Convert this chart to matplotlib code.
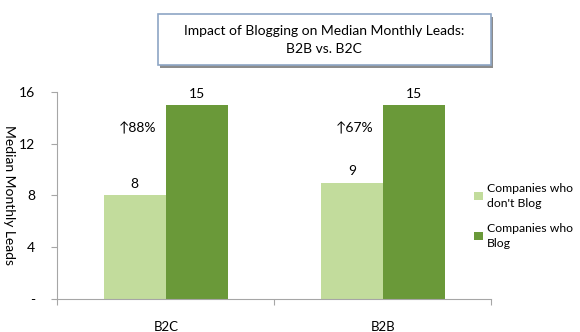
import matplotlib.pyplot as plt
import numpy as np
from matplotlib.patches import Rectangle

plt.rcParams['font.family'] = ['Lato', 'DejaVu Sans']

categories = ['B2C', 'B2B']
no_blog = [8, 9]
blog = [15, 15]
lift = ['\u219188%', '\u219167%']
series_names = ["Companies who\ndon't Blog", 'Companies who\nBlog']
yticks = [0, 4, 8, 12, 16]
ytick_labels = ['-', '4', '8', '12', '16']

light = '#C2DC9C'
dark = '#6A9939'

fig = plt.figure(figsize=(5.8, 3.32), dpi=100)
ax = fig.add_axes([0.099, 0.0994, 0.748, 0.6236])

x = np.arange(len(categories))
w = 0.286
b1 = ax.bar(x - w / 2, no_blog, w, color=light, label=series_names[0])
b2 = ax.bar(x + w / 2, blog, w, color=dark, label=series_names[1])

for i in range(len(categories)):
    ax.text(x[i] - w / 2, no_blog[i] + 0.4, str(no_blog[i]), ha='center', va='bottom', fontsize=10)
    ax.text(x[i] + w / 2, blog[i] + 0.4, str(blog[i]), ha='center', va='bottom', fontsize=10)
    ax.text(x[i] - 0.13, 13.2, lift[i], ha='center', va='center', fontsize=10,
            family=['Lato', 'DejaVu Sans'])

ax.set_xlim(-0.5, 1.5)
ax.set_ylim(0, 16)
ax.set_yticks(yticks)
ax.set_yticklabels(ytick_labels, fontsize=10)
ax.set_xticks([-0.5, 0.5, 1.5])
ax.set_xticklabels([])
ax.set_xticks(x, minor=True)
ax.set_xticklabels(categories, minor=True, fontsize=9.5)
ax.tick_params(axis='x', which='minor', length=0, pad=16)
ax.tick_params(axis='x', which='major', length=4, color='#A6A6A6', direction='out')
ax.tick_params(axis='y', length=4, color='#A6A6A6', pad=12)

for s in ['top', 'right']:
    ax.spines[s].set_visible(False)
for s in ['left', 'bottom']:
    ax.spines[s].set_color('#A6A6A6')

ax.set_ylabel('Median Monthly Leads', rotation=270, fontsize=10, va='bottom')
ax.yaxis.set_label_coords(-0.125, 0.5)

leg = fig.legend(handles=[b1, b2], loc='upper left', bbox_to_anchor=(0.818, 0.45), frameon=False,
                 fontsize=8.8, handlelength=0.7, handleheight=0.7, handletextpad=0.3,
                 labelspacing=1.1, borderpad=0, borderaxespad=0)
for t in leg.get_texts():
    t.set_linespacing(1.5)

# title box with shadow
fig.patches.append(Rectangle((0.276, 0.796), 0.574, 0.154, transform=fig.transFigure,
                             facecolor='#8C8C8C', edgecolor='none', zorder=1))
fig.patches.append(Rectangle((0.272, 0.804), 0.574, 0.154, transform=fig.transFigure,
                             facecolor='white', edgecolor='#8EA6C5', linewidth=1.2, zorder=2))
fig.text(0.559, 0.881, 'Impact of Blogging on Median Monthly Leads:\nB2B vs. B2C',
         ha='center', va='center', fontsize=10, linespacing=1.6, zorder=3)

fig.savefig('out.png', dpi=100)
